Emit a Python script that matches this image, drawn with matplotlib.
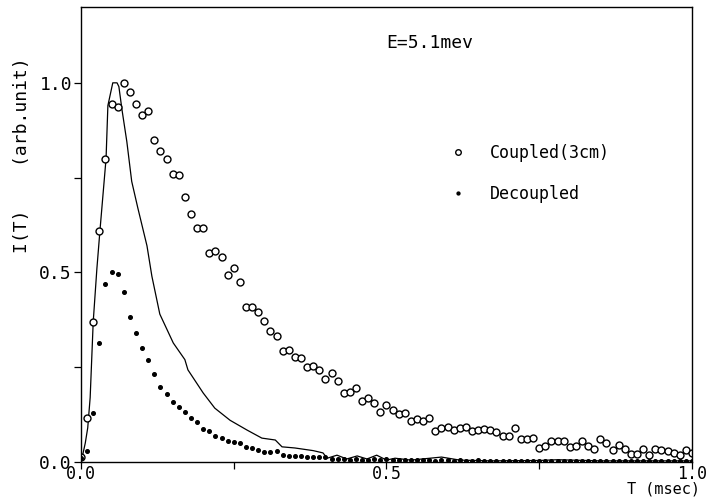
import numpy as np
import matplotlib
matplotlib.use("Agg")
import matplotlib.pyplot as plt

# time channels (msec), 0.01 msec step
t = np.arange(101) * 0.01

coupled = [0.013, 0.116, 0.37, 0.61, 0.80, 0.945, 0.935, 1.0, 0.975, 0.945,
           0.915, 0.925, 0.85, 0.82, 0.80, 0.76, 0.757, 0.70, 0.654, 0.617,
           0.617, 0.552, 0.557, 0.541, 0.493, 0.512, 0.475, 0.41, 0.41, 0.396,
           0.372, 0.346, 0.332, 0.293, 0.296, 0.278, 0.275, 0.25, 0.253, 0.243,
           0.219, 0.235, 0.214, 0.182, 0.185, 0.195, 0.161, 0.169, 0.156, 0.132,
           0.15, 0.138, 0.127, 0.13, 0.108, 0.113, 0.108, 0.116, 0.082, 0.09,
           0.092, 0.084, 0.09, 0.092, 0.082, 0.084, 0.087, 0.084, 0.079, 0.069,
           0.069, 0.09, 0.06, 0.06, 0.063, 0.037, 0.042, 0.055, 0.056, 0.055,
           0.04, 0.042, 0.056, 0.042, 0.034, 0.06, 0.05, 0.032, 0.045, 0.034,
           0.021, 0.021, 0.034, 0.018, 0.034, 0.032, 0.03, 0.025, 0.018, 0.032,
           0.025]

decoupled = [0.01, 0.03, 0.13, 0.315, 0.47, 0.50, 0.496, 0.448, 0.382, 0.34,
             0.30, 0.27, 0.232, 0.197, 0.18, 0.157, 0.146, 0.132, 0.116, 0.106,
             0.087, 0.082, 0.069, 0.063, 0.055, 0.053, 0.05, 0.04, 0.037, 0.032,
             0.026, 0.026, 0.029, 0.018, 0.016, 0.016, 0.015, 0.014, 0.013, 0.013,
             0.013, 0.008, 0.008, 0.007, 0.006, 0.008, 0.006, 0.005, 0.007, 0.006,
             0.008, 0.006, 0.005, 0.006, 0.005, 0.004, 0.006, 0.004, 0.003, 0.004,
             0.004, 0.003, 0.004, 0.003, 0.003, 0.004, 0.003, 0.002, 0.003, 0.003,
             0.003, 0.002, 0.003, 0.002, 0.003, 0.002, 0.003, 0.002, 0.002, 0.003,
             0.002, 0.002, 0.003, 0.002, 0.002, 0.002, 0.003, 0.002, 0.002, 0.002,
             0.002, 0.002, 0.003, 0.002, 0.002, 0.002, 0.002, 0.002, 0.002, 0.002,
             0.002]

# calculated curve
line_t = [0.0, 0.002, 0.007, 0.011, 0.015, 0.02, 0.026, 0.031, 0.041, 0.044,
          0.052, 0.059, 0.062, 0.067, 0.075, 0.083, 0.093, 0.108, 0.116, 0.129,
          0.151, 0.170, 0.175, 0.20, 0.219, 0.244, 0.272, 0.296, 0.318, 0.329,
          0.35, 0.38, 0.396, 0.403, 0.419, 0.435, 0.452, 0.468, 0.484, 0.50,
          0.514, 0.54, 0.59, 0.62, 0.67, 0.75, 0.78, 0.85, 1.0]
line_i = [0.0, 0.013, 0.05, 0.09, 0.17, 0.37, 0.51, 0.61, 0.80, 0.94,
          1.0, 1.0, 0.99, 0.93, 0.845, 0.74, 0.67, 0.57, 0.49, 0.39,
          0.314, 0.27, 0.243, 0.182, 0.142, 0.11, 0.084, 0.063, 0.058, 0.04,
          0.037, 0.03, 0.024, 0.01, 0.018, 0.008, 0.016, 0.008, 0.018, 0.005,
          0.01, 0.005, 0.013, 0.005, 0.003, 0.004, 0.006, 0.003, 0.003]

mono = "DejaVu Sans Mono"
plt.rcParams["font.family"] = mono

fig = plt.figure(figsize=(7.15, 4.97), dpi=100)
ax = fig.add_axes([81/715, 1-462/497, 611/715, 455/497])

ax.plot(line_t, line_i, color="black", lw=0.9)
ax.plot(t, coupled, "o", mfc="white", mec="black", ms=5.0, mew=1.0, ls="none",
        label="Coupled(3cm)")
ax.plot(t, decoupled, "o", color="black", ms=2.6, ls="none", label="Decoupled")

ax.set_xlim(0, 1.0)
ax.set_ylim(0, 1.2)
ax.set_xticks([0, 0.5, 1.0])
ax.set_xticklabels(["0.0", "0.5", "1.0"])
ax.set_xticks([0.25, 0.75], minor=True)
ax.set_yticks([0, 0.5, 1.0])
ax.set_yticklabels(["0.0", "0.5", "1.0"])
ax.set_yticks([0.25, 0.75], minor=True)
ax.tick_params(which="both", direction="out", length=5, width=0.9)
ax.tick_params(axis="y", pad=1.5, labelsize=13)
ax.tick_params(axis="x", pad=-3, labelsize=12)
for s in ax.spines.values():
    s.set_linewidth(1.0)

ax.text(0.5, 0.921, "E=5.1mev", transform=ax.transAxes, fontsize=13, va="center", ha="left")
ax.text(0.954, -0.0765, "T (msec)", transform=ax.transAxes, fontsize=11, va="bottom", ha="center")
ax.text(-0.0966, 0.675, "I(T)    (arb.unit)", transform=ax.transAxes, fontsize=13,
        va="center", ha="center", rotation=90)

ax.legend(loc="upper left", bbox_to_anchor=(0.604, 0.70), frameon=False,
          prop={"family": mono, "size": 12}, handlelength=1.0, handletextpad=1.4,
          labelspacing=1.4, borderpad=0, borderaxespad=0, numpoints=1,
          markerscale=0.8)

fig.savefig("out.png", dpi=100)
